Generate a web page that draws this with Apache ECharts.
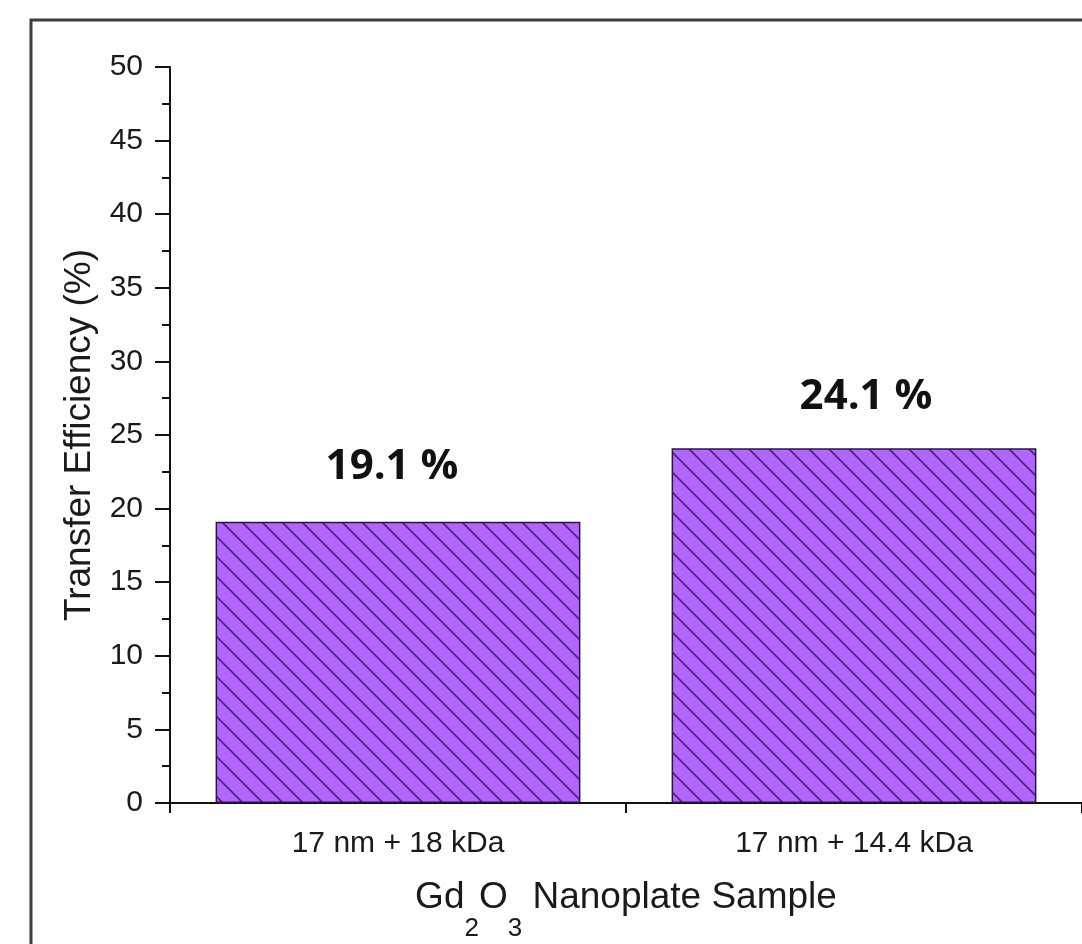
<!DOCTYPE html>
<html><head><meta charset="utf-8">
<script src="https://cdn.jsdelivr.net/npm/echarts@6/dist/echarts.min.js"></script>
<style>html,body{margin:0;padding:0;background:#fff}#c{width:1082px;height:944px}</style>
</head><body><div id="c"></div>
<script>
const categories = ['17 nm + 18 kDa', '17 nm + 14.4 kDa'];
const efficiency = [19.1, 24.1];
const barLabels = ['19.1 %', '24.1 %'];
const yMin = 0, yMax = 50, yInterval = 5;
const yName = 'Transfer Efficiency (%)';
const labelOffsets = [[-6, 2], [12, 6]];

function hatch() {
  const c = document.createElement('canvas');
  c.width = 20; c.height = 20;
  const g = c.getContext('2d');
  g.fillStyle = '#b266ff';
  g.fillRect(0, 0, 20, 20);
  g.strokeStyle = '#4a2080';
  g.lineWidth = 1.6;
  g.beginPath();
  g.moveTo(-2, -2); g.lineTo(22, 22);
  g.moveTo(-2, 18); g.lineTo(2, 22);
  g.moveTo(18, -2); g.lineTo(22, 2);
  g.stroke();
  return c;
}

const font = 'Liberation Sans, Arial, sans-serif';
const chart = echarts.init(document.getElementById('c'), null, {renderer: 'canvas'});
chart.setOption({
  backgroundColor: '#fff',
  animation: false,
  graphic: [{
    type: 'rect', shape: {x: 31, y: 20, width: 1200, height: 1100},
    style: {fill: 'none', stroke: '#3c3c3c', lineWidth: 3}, z: -1
  }],
  grid: {left: 170, right: 0, top: 67, bottom: 141, containLabel: false, outerBoundsMode: 'none'},
  xAxis: {
    type: 'category',
    data: categories,
    boundaryGap: true,
    axisLine: {lineStyle: {color: '#111', width: 2}},
    axisTick: {show: true, inside: false, length: 10, alignWithLabel: false, lineStyle: {color: '#111', width: 2}},
    axisLabel: {fontFamily: font, fontSize: 30, color: '#1a1a1a', margin: 26},
    name: '{n|Gd}{s|2}{n|O}{s|3}{n| Nanoplate Sample}',
    nameLocation: 'middle',
    nameGap: 76,
    nameTextStyle: {
      rich: {
        n: {fontFamily: font, fontSize: 37, color: '#1a1a1a', lineHeight: 40, verticalAlign: 'top'},
        s: {fontFamily: font, fontSize: 26, color: '#1a1a1a', lineHeight: 26, padding: [37, 0, 0, 0], verticalAlign: 'top'}
      }
    }
  },
  yAxis: {
    type: 'value',
    min: yMin, max: yMax, interval: yInterval,
    splitLine: {show: false},
    axisLine: {show: true, lineStyle: {color: '#111', width: 2}},
    axisTick: {show: true, inside: false, length: 15, lineStyle: {color: '#111', width: 2}},
    minorTick: {show: true, splitNumber: 2, length: 8, lineStyle: {color: '#111', width: 2}},
    axisLabel: {fontFamily: font, fontSize: 30, color: '#1a1a1a', margin: 27},
    name: yName,
    nameLocation: 'middle',
    nameGap: 67,
    nameTextStyle: {fontFamily: font, fontSize: 37, color: '#1a1a1a'}
  },
  series: [{
    type: 'bar',
    data: efficiency.map((v, i) => ({value: v, label: {offset: labelOffsets[i]}})),
    barCategoryGap: '20%',
    itemStyle: {
      color: {image: hatch(), repeat: 'repeat'},
      borderColor: '#2a1640',
      borderWidth: 1.5
    },
    label: {
      show: true,
      position: 'top',
      distance: 36,
      formatter: p => barLabels[p.dataIndex],
      fontFamily: 'Open Sans, sans-serif',
      fontWeight: 'bold',
      fontSize: 42,
      color: '#111'
    }
  }]
});
</script></body></html>
